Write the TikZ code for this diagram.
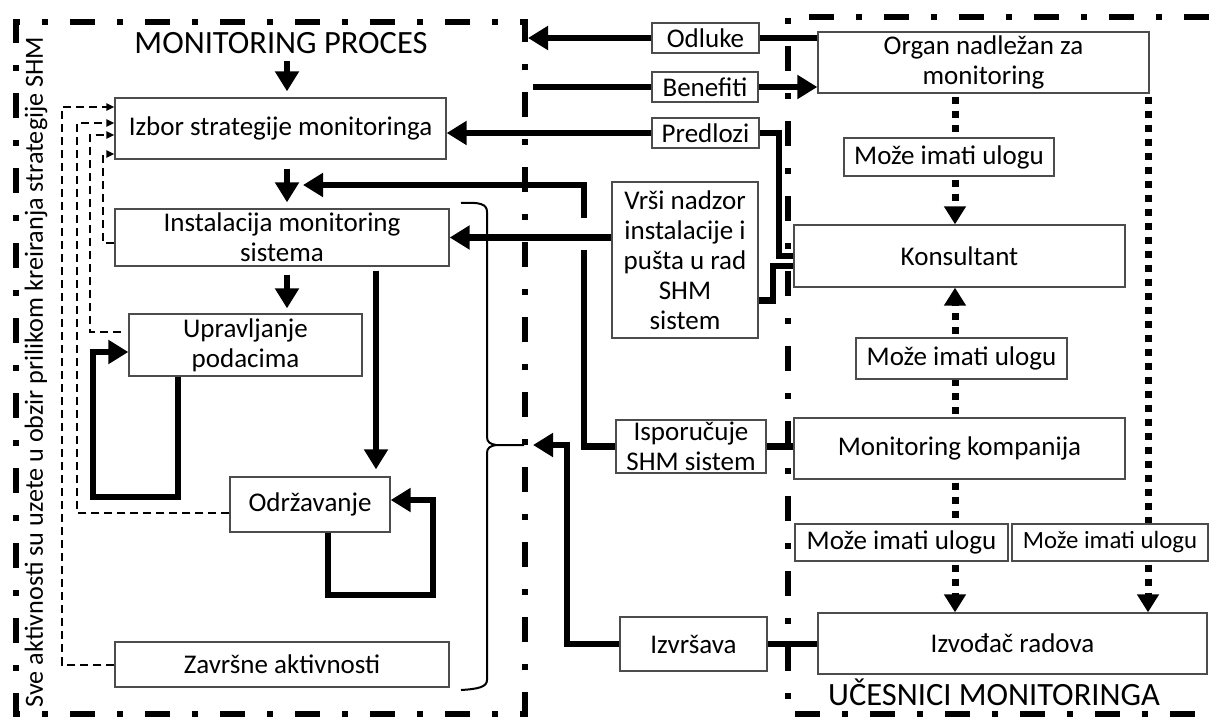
\documentclass[tikz,border=0pt]{standalone}
\usepackage{fontspec}
\setmainfont{Carlito}
\usetikzlibrary{arrows.meta,calc}
\begin{document}
\begin{tikzpicture}[x=1pt,y=-1pt,
  box/.style={draw=black!70, line width=1.3pt, inner sep=0pt, align=center, font=\fontsize{27}{30}\selectfont},
  border/.style={line width=6pt, dash pattern=on 25pt off 22pt on 6pt off 22pt},
  solidline/.style={line width=6.5pt},
  solidarrow/.style={line width=6.5pt, -{Triangle[length=20pt,width=23pt]}},
  dotline/.style={line width=7pt, dash pattern=on 7pt off 7pt, shorten <=3pt},
  dotarrow/.style={line width=7pt, dash pattern=on 7pt off 7pt, shorten <=3pt, -{Triangle[length=18pt,width=21pt]}},
  fbarrow/.style={line width=2pt, dash pattern=on 8pt off 5pt, -{Triangle[length=8pt,width=7pt]}},
]
\useasboundingbox (0,0) rectangle (1209,717);

% ---------- nodes: left column
\node[font=\fontsize{32.5}{36}\selectfont] (title) at (281,43) {MONITORING PROCES};
\node[box, minimum width=331pt, minimum height=61pt] (izbor) at (280.5,128.5) {Izbor strategije monitoringa};
\node[box, minimum width=334pt, minimum height=57pt] (inst) at (282,237.5) {Instalacija monitoring\\sistema};
\node[box, minimum width=233pt, minimum height=62pt] (uprav) at (245.5,345) {Upravljanje\\podacima};
\node[box, minimum width=160pt, minimum height=55pt] (odrz) at (310,504.5) {Održavanje};
\node[box, minimum width=334pt, minimum height=45pt] (zavr) at (282,664.5) {Završne aktivnosti};
\node[rotate=90, font=\fontsize{26.2}{30}\selectfont] (side) at (36,372) {Sve aktivnosti su uzete u obzir prilikom kreiranja strategije SHM};

% ---------- nodes: middle column
\node[box, minimum width=107pt, minimum height=30pt] (odluke) at (705.5,38) {Odluke};
\node[box, minimum width=106pt, minimum height=30pt] (benef) at (705,87) {Benefiti};
\node[box, minimum width=107pt, minimum height=30pt] (predl) at (705.5,133) {Predlozi};
\node[box, minimum width=146pt, minimum height=156pt] (vrsi) at (685,260) {Vrši nadzor\\instalacije i\\pušta u rad\\SHM\\sistem};
\node[box, minimum width=150pt, minimum height=53pt] (ispor) at (691,446.5) {Isporučuje\\SHM sistem};
\node[box, minimum width=147pt, minimum height=54pt] (izvrs) at (693.5,644) {Izvršava};

% ---------- nodes: right column
\node[box, minimum width=331pt, minimum height=61pt] (organ) at (983.5,62.5) {Organ nadležan za\\monitoring};
\node[box, minimum width=210pt, minimum height=38pt] (moze1) at (949,157) {Može imati ulogu};
\node[box, minimum width=331pt, minimum height=62pt] (konsul) at (959.5,256) {Konsultant};
\node[box, minimum width=211pt, minimum height=41pt] (moze2) at (961.5,358.5) {Može imati ulogu};
\node[box, minimum width=331pt, minimum height=61pt] (monkomp) at (959.5,448.5) {Monitoring kompanija};
\node[box, minimum width=213pt, minimum height=37pt] (moze3) at (901.5,542.5) {Može imati ulogu};
\node[box, minimum width=196pt, minimum height=37pt, font=\fontsize{24.8}{28}\selectfont] (moze4) at (1110,542.5) {Može imati ulogu};
\node[box, minimum width=389pt, minimum height=61pt] (izvod) at (1012.5,643.5) {Izvođač radova};
\node[font=\fontsize{32.5}{36}\selectfont, anchor=base] (ucesnici) at (994,705) {UČESNICI MONITORINGA};

% ---------- region borders
\draw[border] (525,717) -- (525,22) -- (16,22) -- (16,714) -- (525,714);
\draw[border] (1209,17) -- (788,17) -- (788,714) -- (1209,714);

% ---------- helper coordinates
\coordinate (xDn) at (287,0);
\coordinate (xOd) at (376,0);
\coordinate (gapT) at (584,218);
\coordinate (gapB) at (584,250);
\coordinate (tipA) at (303,185);
\coordinate (odlTip) at (528,38);
\coordinate (benStart) at (533,87);
\coordinate (pk1) at (779,256);
\coordinate (pk2) at (773,266);
\coordinate (iz1) at (567,445);
\coordinate (iz2) at (533,445);
\coordinate (xA) at (955,0);
\coordinate (xB) at (1148,0);
\coordinate (f1) at (62,107);
\coordinate (f2) at (77,123);
\coordinate (f3) at (90,135);
\coordinate (f4) at (103,154);
\coordinate (ul1) at (178,497);
\coordinate (ul2) at (93,352);
\coordinate (ol1) at (328,595);
\coordinate (ol2) at (433,500);

% ---------- left column flow
\draw[solidarrow, shorten <=4pt, shorten >=6pt] (title.south -| xDn) -- (izbor.north -| xDn);
\draw[solidarrow, shorten <=9pt, shorten >=6pt] (izbor.south -| xDn) -- (inst.north -| xDn);
\draw[solidarrow, shorten <=8pt, shorten >=5pt] (inst.south -| xDn) -- (uprav.north -| xDn);
\draw[solidarrow, shorten <=4pt, shorten >=7pt] (inst.south -| xOd) -- (odrz.north -| xOd);
\draw[solidarrow] (uprav.south -| ul1) -- (ul1) -| (ul2) -- (ul2 -| uprav.west);
\draw[solidarrow] (odrz.south -| ol1) -- (ol1) -| (ol2) -- (ol2 -| odrz.east);

% ---------- dashed feedback lines
\draw[fbarrow] (zavr.west) -| (f1) -- (f1 -| izbor.west);
\draw[fbarrow] ($(odrz.west)+(0,8)$) -| (f2) -- (f2 -| izbor.west);
\draw[fbarrow] ($(uprav.west)+(-7,-13)$) -| (f3) -- (f3 -| izbor.west);
\draw[fbarrow] ($(inst.west)+(0,5)$) -| (f4) -- (f4 -| izbor.west);

% ---------- brace
\draw[line width=2pt] (461,203) .. controls (480,202) and (487,204) .. (487,212) -- (487,437)
  .. controls (487,442) and (490,444) .. (496,445) -- (524,445);
\draw[line width=2pt] (496,445) .. controls (490,446) and (487,448) .. (487,453) -- (487,680)
  .. controls (487,687) and (478,689) .. (461,690);

% ---------- middle connectors
\draw[solidline] (odluke.east -| organ.west) -- (odluke.east);
\draw[solidarrow] (odluke.west) -- (odlTip);
\draw[solidline] (benStart) -- (benef.west);
\draw[solidarrow] (benef.east) -- (benef.east -| organ.west);
\draw[solidarrow] (predl.west) -- (predl.west -| izbor.east);
\draw[solidline] (predl.east) -| (pk1) -- (pk1 -| konsul.west);
\draw[solidline] ($(vrsi.south east)+(0,-38)$) -| (pk2) -- (pk2 -| konsul.west);
\draw[solidline] (ispor.west) -| (gapB);
\draw[solidarrow] (gapT) |- (tipA);
\draw[solidarrow] (inst.east -| vrsi.west) -- (inst.east);
\draw[solidline] (ispor.east) -- (ispor.east -| monkomp.west);
\draw[solidline] (izvrs.east) -- (izvrs.east -| izvod.west);
\draw[solidarrow] (izvrs.west) -| (iz1) -- (iz2);

% ---------- dotted role arrows
\draw[dotline] (organ.south -| xA) -- (moze1.north -| xA);
\draw[dotarrow] (moze1.south -| xA) -- (konsul.north -| xA);
\draw[dotline] (monkomp.north -| xA) -- (moze2.south -| xA);
\draw[dotarrow] (moze2.north -| xA) -- (konsul.south -| xA);
\draw[dotline] (monkomp.south -| xA) -- (moze3.north -| xA);
\draw[dotarrow] (moze3.south -| xA) -- (izvod.north -| xA);
\draw[dotline] (organ.south -| xB) -- (moze4.north -| xB);
\draw[dotarrow] (moze4.south -| xB) -- (izvod.north -| xB);
\end{tikzpicture}
\end{document}
